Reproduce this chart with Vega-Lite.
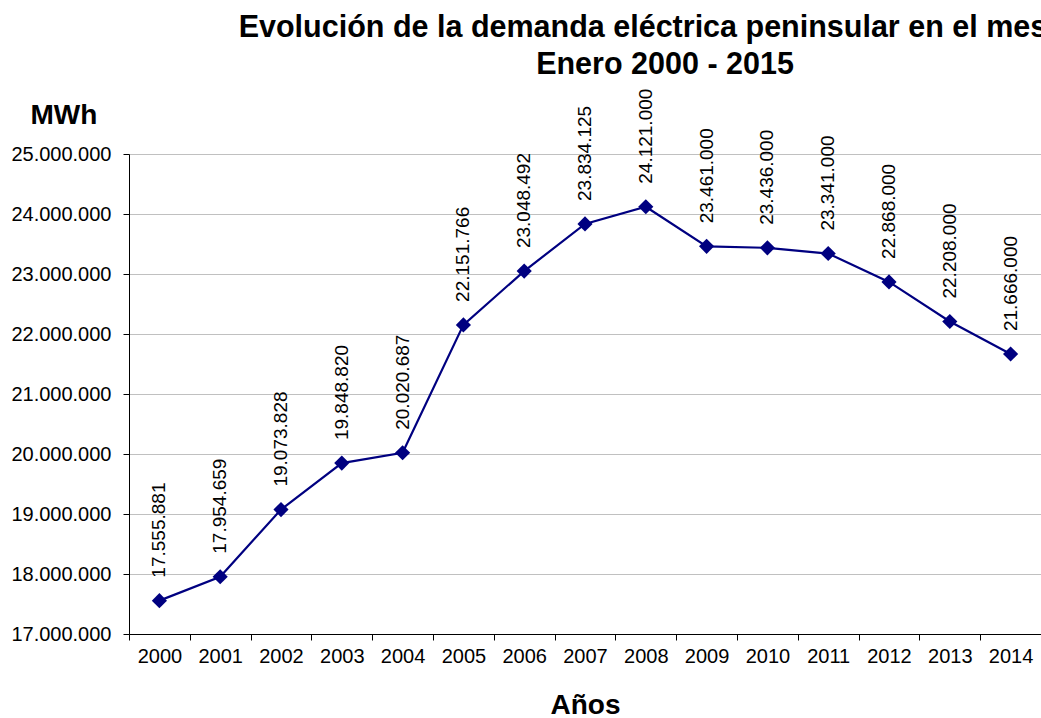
{
  "$schema": "https://vega.github.io/schema/vega-lite/v6.json",
  "width": 912,
  "height": 480,
  "autosize": {"type": "none"},
  "padding": {"left": 129, "top": 154, "right": 0, "bottom": 84},
  "background": "white",
  "config": {
    "locale": {"number": {"decimal": ",", "thousands": ".", "grouping": [3], "currency": ["", " €"]}},
    "font": "Liberation Sans",
    "view": {"stroke": null}
  },
  "title": {
    "text": ["Evolución de la demanda eléctrica peninsular en el mes de", "Enero 2000 - 2015"],
    "fontSize": 30.5,
    "fontWeight": "bold",
    "color": "black",
    "anchor": "middle",
    "dx": 80,
    "lineHeight": 37,
    "offset": 8
  },
  "data": {
    "values": [
      {"year": "2000", "mwh": 17555881},
      {"year": "2001", "mwh": 17954659},
      {"year": "2002", "mwh": 19073828},
      {"year": "2003", "mwh": 19848820},
      {"year": "2004", "mwh": 20020687},
      {"year": "2005", "mwh": 22151766},
      {"year": "2006", "mwh": 23048492},
      {"year": "2007", "mwh": 23834125},
      {"year": "2008", "mwh": 24121000},
      {"year": "2009", "mwh": 23461000},
      {"year": "2010", "mwh": 23436000},
      {"year": "2011", "mwh": 23341000},
      {"year": "2012", "mwh": 22868000},
      {"year": "2013", "mwh": 22208000},
      {"year": "2014", "mwh": 21666000}
    ]
  },
  "encoding": {
    "x": {
      "field": "year",
      "type": "ordinal",
      "bandPosition": 0.5,
      "scale": {"type": "band", "paddingInner": 0, "paddingOuter": 0},
      "axis": {
        "title": "Años",
        "titleFontSize": 28,
        "titleFontWeight": "bold",
        "titleColor": "black",
        "titleY": 79,
        "titleBaseline": "alphabetic",
        "labelAngle": 0,
        "labelFontSize": 20,
        "labelColor": "black",
        "labelPadding": 6,
        "tickBand": "extent",
        "tickSize": 6,
        "tickColor": "black",
        "domainColor": "black",
        "grid": false
      }
    },
    "y": {
      "field": "mwh",
      "type": "quantitative",
      "scale": {"domain": [17000000, 25000000], "nice": false, "zero": false},
      "axis": {
        "values": [17000000, 18000000, 19000000, 20000000, 21000000, 22000000, 23000000, 24000000, 25000000],
        "format": ",d",
        "title": "MWh",
        "titleAngle": 0,
        "titleX": -99,
        "titleY": -31,
        "titleAlign": "left",
        "titleBaseline": "alphabetic",
        "titleFontSize": 28,
        "titleFontWeight": "bold",
        "titleColor": "black",
        "labelFontSize": 20,
        "labelColor": "black",
        "labelPadding": 12,
        "tickSize": 6,
        "tickColor": "black",
        "domainColor": "black",
        "grid": true,
        "gridColor": "#c0c0c0",
        "gridWidth": 1
      }
    }
  },
  "layer": [
    {"mark": {"type": "line", "color": "#000080", "strokeWidth": 2.2}},
    {"mark": {"type": "point", "shape": "diamond", "filled": true, "size": 230, "color": "#000080", "opacity": 1}},
    {
      "mark": {"type": "text", "angle": 270, "align": "left", "baseline": "middle", "dx": 23, "fontSize": 19, "color": "black"},
      "encoding": {"text": {"field": "mwh", "type": "quantitative", "format": ",d"}}
    }
  ]
}
